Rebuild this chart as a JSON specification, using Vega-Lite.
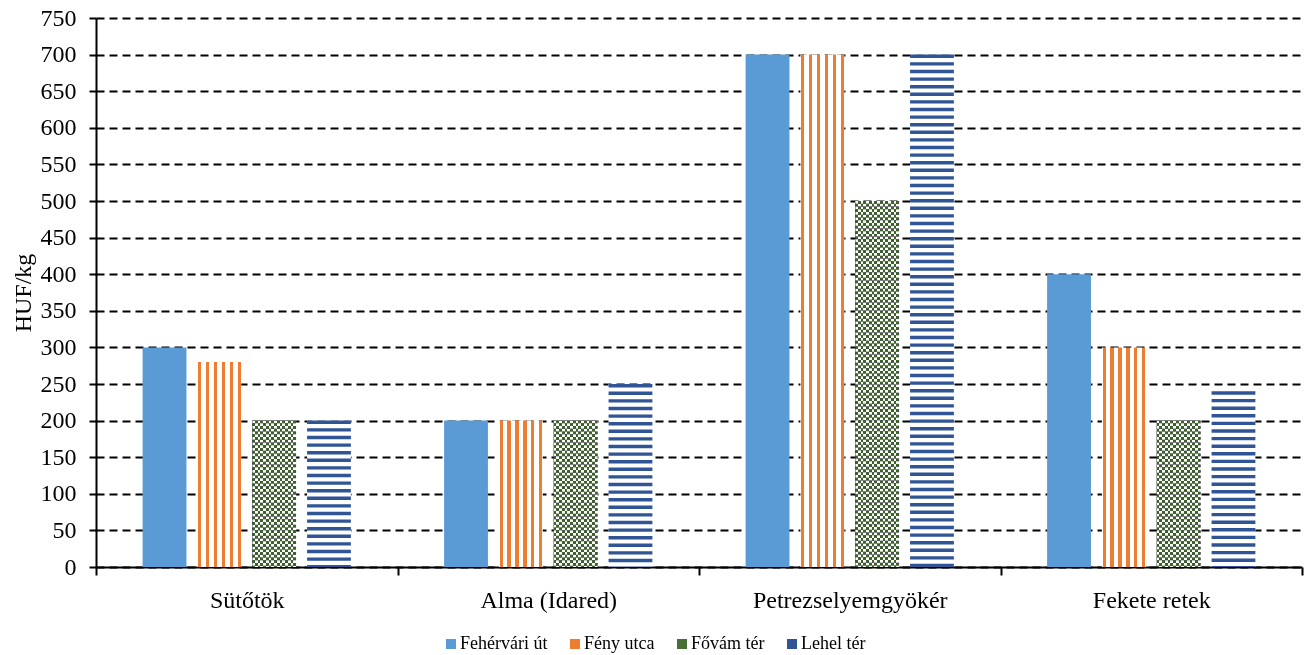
{
  "$schema": "https://vega.github.io/schema/vega-lite/v6.json",
  "autosize": {"type": "none"},
  "padding": {"left": 96, "top": 18, "right": 5, "bottom": 88},
  "width": 1206,
  "height": 549,
  "background": "white",
  "config": {
    "view": {"stroke": null},
    "font": "Liberation Serif",
    "axis": {"labelFont": "Liberation Serif", "titleFont": "Liberation Serif", "labelColor": "black", "titleColor": "black", "domainColor": "black", "tickColor": "black"}
  },
  "data": {"values": [
    {"product": "Sütőtök", "series": "Fehérvári út", "value": 300},
    {"product": "Sütőtök", "series": "Fény utca", "value": 280},
    {"product": "Sütőtök", "series": "Fővám tér", "value": 200},
    {"product": "Sütőtök", "series": "Lehel tér", "value": 200},
    {"product": "Alma (Idared)", "series": "Fehérvári út", "value": 200},
    {"product": "Alma (Idared)", "series": "Fény utca", "value": 200},
    {"product": "Alma (Idared)", "series": "Fővám tér", "value": 200},
    {"product": "Alma (Idared)", "series": "Lehel tér", "value": 250},
    {"product": "Petrezselyemgyökér", "series": "Fehérvári út", "value": 700},
    {"product": "Petrezselyemgyökér", "series": "Fény utca", "value": 700},
    {"product": "Petrezselyemgyökér", "series": "Fővám tér", "value": 500},
    {"product": "Petrezselyemgyökér", "series": "Lehel tér", "value": 700},
    {"product": "Fekete retek", "series": "Fehérvári út", "value": 400},
    {"product": "Fekete retek", "series": "Fény utca", "value": 300},
    {"product": "Fekete retek", "series": "Fővám tér", "value": 200},
    {"product": "Fekete retek", "series": "Lehel tér", "value": 240}
  ]},
  "encoding": {
    "x": {
      "field": "product", "type": "nominal", "sort": null,
      "scale": {"domain": ["Sütőtök", "Alma (Idared)", "Petrezselyemgyökér", "Fekete retek"], "paddingInner": 0, "paddingOuter": 0},
      "axis": {"title": null, "labelAngle": 0, "labelFontSize": 24, "labelLimit": 0, "labelPadding": 13, "tickBand": "extent", "tickSize": 8, "tickWidth": 2, "domainWidth": 2, "grid": false}
    },
    "xOffset": {
      "field": "series", "type": "nominal",
      "scale": {"domain": ["Fehérvári út", "Fény utca", "Fővám tér", "Lehel tér"], "paddingInner": 0.2, "paddingOuter": 0.85}
    },
    "y": {
      "field": "value", "type": "quantitative",
      "scale": {"domain": [0, 750], "nice": false},
      "axis": {"title": "HUF/kg", "titleFontSize": 24, "titleFontWeight": "normal", "titlePadding": 5, "values": [0,50,100,150,200,250,300,350,400,450,500,550,600,650,700,750], "labelFontSize": 24, "labelPadding": 13, "tickSize": 7, "tickWidth": 2, "domainWidth": 2, "grid": true, "gridColor": "black", "gridDash": [8, 5], "gridWidth": 2}
    }
  },
  "layer": [
    {
      "mark": {"type": "bar"},
      "encoding": {
        "color": {
          "field": "series", "type": "nominal",
          "scale": {"domain": ["Fehérvári út", "Fény utca", "Fővám tér", "Lehel tér"], "range": ["#5B9BD5", "#ED7D31", "#4A6E35", "#2F5597"]},
          "legend": {"orient": "none", "legendX": 346, "legendY": 617, "direction": "horizontal", "title": null, "symbolType": "square", "symbolSize": 100, "symbolStrokeWidth": 0, "labelFont": "Liberation Serif", "labelFontSize": 18, "labelColor": "black", "columnPadding": 18, "labelOffset": 0},
          "condition": [
            {"test": "datum.series === 'Fény utca'", "value": {"gradient": "linear", "x1": 0, "y1": 0, "x2": 1, "y2": 0, "stops": [
              {"offset": 0, "color": "white"}, {"offset": 0.015, "color": "white"}, {"offset": 0.015, "color": "#ED7D31"}, {"offset": 0.09, "color": "#ED7D31"}, {"offset": 0.09, "color": "white"},
              {"offset": 0.195, "color": "white"}, {"offset": 0.195, "color": "#ED7D31"}, {"offset": 0.27, "color": "#ED7D31"}, {"offset": 0.27, "color": "white"},
              {"offset": 0.375, "color": "white"}, {"offset": 0.375, "color": "#ED7D31"}, {"offset": 0.45, "color": "#ED7D31"}, {"offset": 0.45, "color": "white"},
              {"offset": 0.555, "color": "white"}, {"offset": 0.555, "color": "#ED7D31"}, {"offset": 0.63, "color": "#ED7D31"}, {"offset": 0.63, "color": "white"},
              {"offset": 0.735, "color": "white"}, {"offset": 0.735, "color": "#ED7D31"}, {"offset": 0.81, "color": "#ED7D31"}, {"offset": 0.81, "color": "white"},
              {"offset": 0.915, "color": "white"}, {"offset": 0.915, "color": "#ED7D31"}, {"offset": 0.99, "color": "#ED7D31"}, {"offset": 0.99, "color": "white"}, {"offset": 1, "color": "white"}
            ]}},
            {"test": "datum.series === 'Fővám tér'", "value": {"gradient": "linear", "x1": 0, "y1": 0, "x2": 1, "y2": 0, "stops": [
              {"offset": 0, "color": "black"}, {"offset": 0.0625, "color": "black"}, {"offset": 0.0625, "color": "white"}, {"offset": 0.125, "color": "white"},
              {"offset": 0.125, "color": "black"}, {"offset": 0.1875, "color": "black"}, {"offset": 0.1875, "color": "white"}, {"offset": 0.25, "color": "white"},
              {"offset": 0.25, "color": "black"}, {"offset": 0.3125, "color": "black"}, {"offset": 0.3125, "color": "white"}, {"offset": 0.375, "color": "white"},
              {"offset": 0.375, "color": "black"}, {"offset": 0.4375, "color": "black"}, {"offset": 0.4375, "color": "white"}, {"offset": 0.5, "color": "white"},
              {"offset": 0.5, "color": "black"}, {"offset": 0.5625, "color": "black"}, {"offset": 0.5625, "color": "white"}, {"offset": 0.625, "color": "white"},
              {"offset": 0.625, "color": "black"}, {"offset": 0.6875, "color": "black"}, {"offset": 0.6875, "color": "white"}, {"offset": 0.75, "color": "white"},
              {"offset": 0.75, "color": "black"}, {"offset": 0.8125, "color": "black"}, {"offset": 0.8125, "color": "white"}, {"offset": 0.875, "color": "white"},
              {"offset": 0.875, "color": "black"}, {"offset": 0.9375, "color": "black"}, {"offset": 0.9375, "color": "white"}, {"offset": 1, "color": "white"}
            ]}},
            {"test": "datum.series === 'Lehel tér'", "value": "white"}
          ]
        }
      }
    },
    {
      "transform": [{"filter": "datum.series === 'Lehel tér'"}],
      "mark": {"type": "rule", "stroke": "#2F5597", "strokeWidth": 43.8, "strokeDash": [3.4, 4.2], "strokeCap": "butt"},
      "encoding": {"y2": {"datum": 0}}
    },
    {
      "transform": [{"filter": "datum.series === 'Fővám tér'"}],
      "mark": {"type": "rule", "stroke": "white", "strokeWidth": 43.8, "strokeDash": [2.74, 2.74], "strokeCap": "butt", "blend": "difference"},
      "encoding": {"y2": {"datum": 0}}
    },
    {
      "transform": [{"filter": "datum.series === 'Fővám tér'"}],
      "mark": {"type": "bar", "fill": "#3C6128", "blend": "lighten"},
      "encoding": {}
    }
  ]
}
